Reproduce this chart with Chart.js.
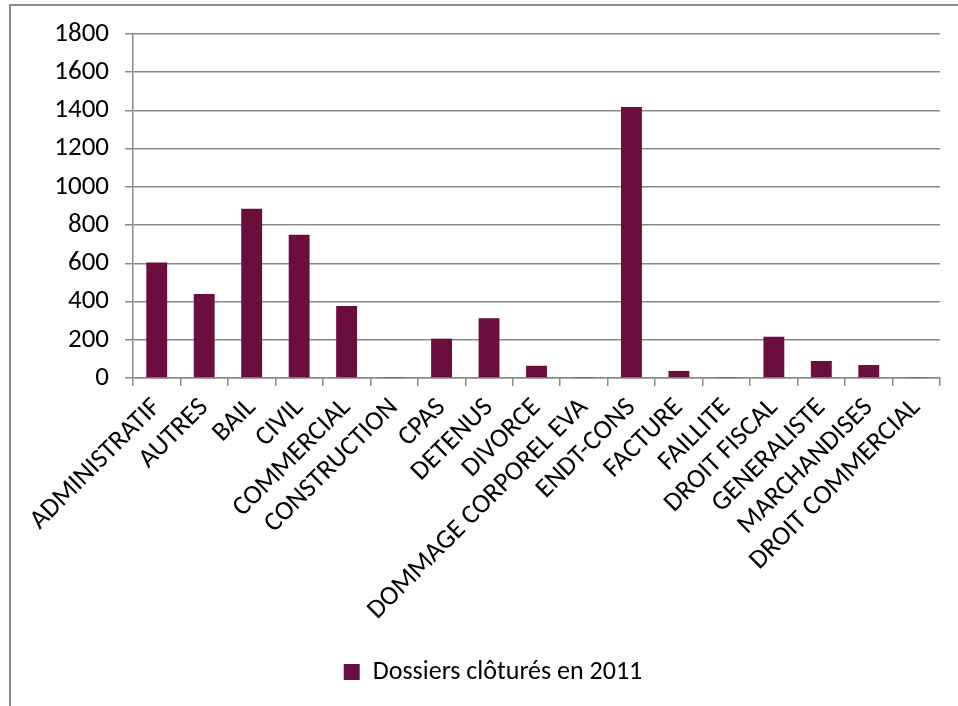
<!DOCTYPE html>
<html>
<head>
<meta charset="utf-8">
<script src="https://cdn.jsdelivr.net/npm/chart.js@4"></script>
<style>
  html, body { margin: 0; padding: 0; background: #fff; }
  #wrap { position: relative; width: 958px; height: 706px; }
  #frame { position: absolute; left: 9px; top: 4px; right: -5px; bottom: -5px;
           border-left: 2px solid #8a8a8a; border-top: 2px solid #8a8a8a; pointer-events: none; }
</style>
</head>
<body>
<div id="wrap">
  <canvas id="myChart" width="958" height="706"></canvas>
  <div id="frame"></div>
</div>
<script>
const categories = ['ADMINISTRATIF', 'AUTRES', 'BAIL', 'CIVIL', 'COMMERCIAL', 'CONSTRUCTION', 'CPAS',
  'DETENUS', 'DIVORCE', 'DOMMAGE CORPOREL EVA', 'ENDT-CONS', 'FACTURE', 'FAILLITE', 'DROIT FISCAL',
  'GENERALISTE', 'MARCHANDISES', 'DROIT COMMERCIAL'];
const dossiers2011 = [605, 440, 886, 750, 377, 5, 206, 312, 64, 2, 1418, 37, 2, 216, 89, 68, 5];
const seriesName = 'Dossiers clôturés en 2011';
const yTicks = [0, 200, 400, 600, 800, 1000, 1200, 1400, 1600, 1800];

const ctx = document.getElementById('myChart');
const gridGray = '#8a8a8a';
const fontFam = 'Carlito, Calibri, Lato, sans-serif';

new Chart(ctx, {
  type: 'bar',
  data: {
    labels: categories,
    datasets: [{
      label: seriesName,
      data: dossiers2011,
      backgroundColor: '#6b0d3d',
      borderWidth: 0,
      minBarLength: 1,
      categoryPercentage: 1,
      barPercentage: 0.44
    }]
  },
  options: {
    responsive: false,
    animation: false,
    layout: { padding: { left: 46, top: 34, right: 18, bottom: 11 } },
    plugins: {
      tooltip: { enabled: false },
      legend: {
        position: 'bottom',
        labels: {
          color: '#000',
          font: { family: fontFam, size: 26 },
          boxWidth: 16,
          boxHeight: 16,
          padding: 10
        }
      }
    },
    scales: {
      y: {
        min: 0,
        max: 1800,
        afterBuildTicks: (s) => { s.ticks = yTicks.map(v => ({ value: v })); },
        afterFit: (s) => { s.width = 87; },
        ticks: { color: '#000', font: { family: fontFam, size: 27 }, padding: 16,
                 callback: (v) => String(v) },
        grid: { color: gridGray, lineWidth: 1.5, tickLength: 8 },
        border: { color: gridGray, width: 1.5 }
      },
      x: {
        afterFit: (s) => { s.height = 271; },
        ticks: { color: '#000', font: { family: fontFam, size: 27 }, autoSkip: false,
                 minRotation: 45, maxRotation: 45, padding: 6 },
        grid: { color: gridGray, lineWidth: 1.5, drawOnChartArea: false, tickLength: 8 },
        border: { color: gridGray, width: 1.5 }
      }
    }
  }
});
</script>
</body>
</html>
